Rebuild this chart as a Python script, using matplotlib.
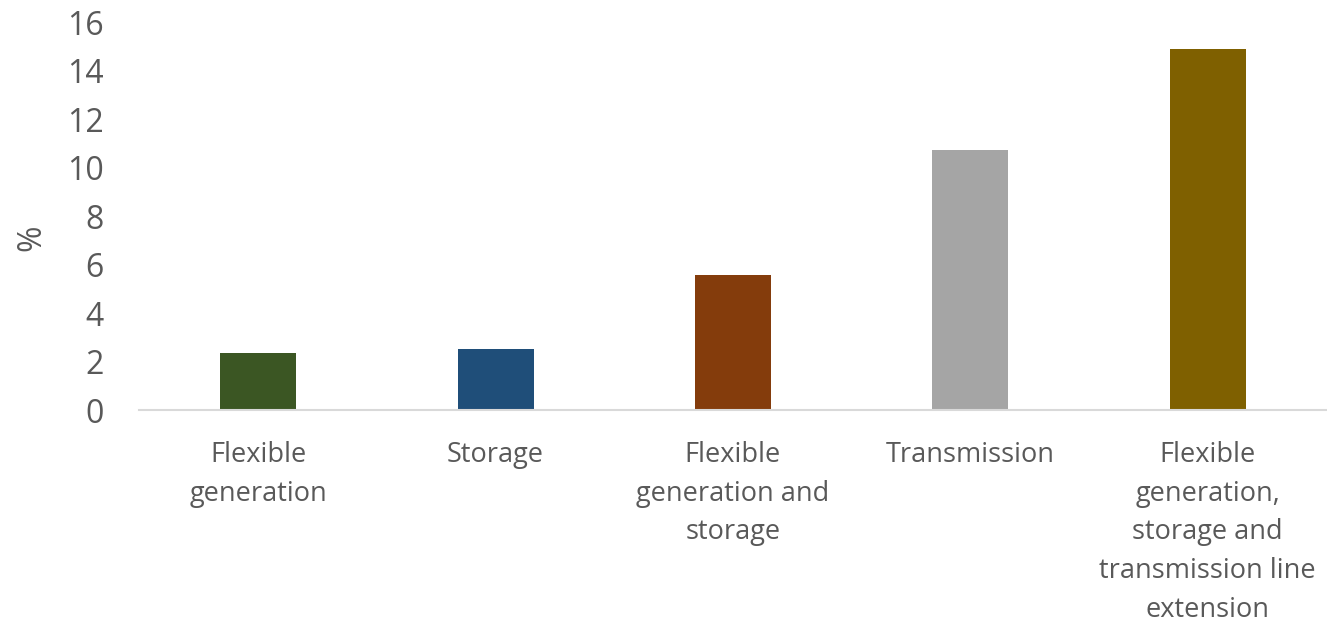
import matplotlib
matplotlib.use("Agg")
import matplotlib.pyplot as plt

categories = ["Flexible\ngeneration", "Storage", "Flexible\ngeneration and\nstorage",
              "Transmission", "Flexible\ngeneration,\nstorage and\ntransmission line\nextension"]
values = [2.37, 2.54, 5.59, 10.73, 14.9]
colors = ["#3B5623", "#1F4E79", "#843C0C", "#A5A5A5", "#7F6000"]
yticks = [0, 2, 4, 6, 8, 10, 12, 14, 16]

plt.rcParams['font.family'] = ['Open Sans', 'DejaVu Sans']
txt = "#595959"

fig = plt.figure(figsize=(13.27, 6.23), dpi=100)
ax = fig.add_axes([0.1051, 0.3411, 0.8945, 0.6228])
x = range(len(categories))
ax.bar(x, values, width=0.32, color=colors)
ax.set_xlim(-0.5, 4.5)
ax.set_ylim(0, 16)
ax.set_yticks(yticks)
ax.set_yticklabels([str(t) for t in yticks], fontsize=23, color=txt)
ax.set_xticks(list(x))
ax.set_xticklabels(categories, fontsize=19.5, color=txt, linespacing=1.51, va="top")
ax.tick_params(axis="y", length=0, pad=26)
ax.tick_params(axis="x", length=0, pad=22)
for s in ["top", "right", "left"]:
    ax.spines[s].set_visible(False)
ax.spines["bottom"].set_color("#D9D9D9")
ax.spines["bottom"].set_linewidth(1.5)
ax.set_ylabel("%", fontsize=23, color=txt)
ax.yaxis.set_label_coords(-0.077, 0.445)
fig.savefig("out.png", dpi=100)
